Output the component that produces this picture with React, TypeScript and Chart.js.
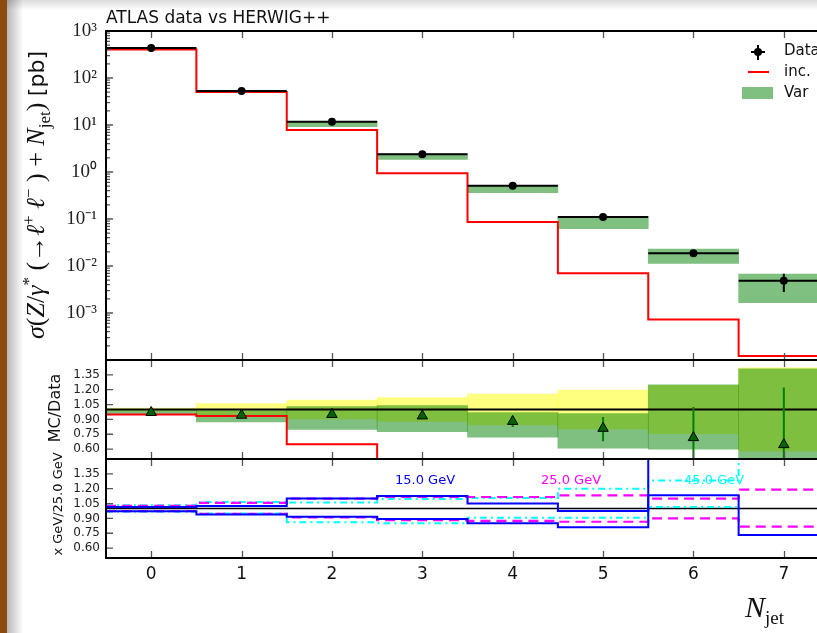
import React, { useEffect, useRef } from 'react';
import { Chart, registerables } from 'chart.js';

Chart.register(...registerables);

// ---------------- data ----------------
const binCenters = [0, 1, 2, 3, 4, 5, 6, 7];
const xTickLabels = ['0', '1', '2', '3', '4', '5', '6', '7'];

// main panel (pb)
const dataValues = [435, 53, 11.7, 2.38, 0.51, 0.11, 0.0186, 0.00488];
const dataErrLow = [425, 51.5, 11.2, 2.3, 0.49, 0.104, 0.0166, 0.0028];
const dataErrHigh = [445, 54.5, 12.2, 2.46, 0.53, 0.116, 0.0207, 0.0068];
const incValues = [404, 50.3, 7.8, 0.94, 0.086, 0.007, 0.00073, 0.000122];
const varLow = [405, 50, 9.2, 1.86, 0.363, 0.062, 0.0114, 0.00166];
const varHigh = [440, 54, 11.8, 2.45, 0.52, 0.112, 0.023, 0.00676];

const logTickValues = [1e-3, 1e-2, 1e-1, 1, 10, 100, 1000];
const logTickLabels = ['10⁻³', '10⁻²', '10⁻¹', '10⁰', '10¹', '10²', '10³'];

// ratio panel (MC/Data)
const ratioTickValues = [0.6, 0.75, 0.9, 1.05, 1.2, 1.35];
const ratioTickLabels = ['0.60', '0.75', '0.90', '1.05', '1.20', '1.35'];
const dataUncHalf = [0.015, 0.06, 0.095, 0.12, 0.155, 0.195, 0.245, 0.42];
const varRatioLow = [0.95, 0.875, 0.8, 0.775, 0.72, 0.61, 0.6, 0.45];
const varRatioHigh = [1.0, 0.99, 1.03, 1.04, 0.97, 0.96, 1.25, 1.41];
const mcRatio = [0.97, 0.942, 0.95, 0.935, 0.88, 0.81, 0.716, 0.645];
const mcRatioLow = [0.962, 0.934, 0.942, 0.925, 0.824, 0.68, 0.43, 0.07];
const mcRatioHigh = [0.978, 0.95, 0.958, 0.945, 0.935, 0.925, 1.026, 1.223];
const incRatio = [0.95, 0.935, 0.65, 0.4, 0.17, 0.066, 0.039, 0.025];

// scale-variation panel (x GeV / 25.0 GeV)
const scale15Up = [1.016, 1.026, 1.1, 1.126, 1.05, 0.976, 1.133, 0.733];
const scale15Down = [0.973, 0.94, 0.916, 0.893, 0.85, 0.81, 1.9, 1.9];
const scale25Up = [1.026, 1.056, 1.1, 1.116, 1.116, 1.133, 1.1, 1.19];
const scale25Down = [0.973, 0.945, 0.91, 0.883, 0.876, 0.866, 0.9, 0.816];
const scale45Up = [1.033, 1.066, 1.06, 1.095, 1.106, 1.2, 1.283, 1.9];
const scale45Down = [0.967, 0.95, 0.86, 0.85, 0.906, 0.906, 1.016, null];
const unityLine = [1, 1, 1, 1, 1, 1, 1, 1];

// ---------------- helpers ----------------
type V = number | null;
const stepPts = (vals: V[]) => {
  const pts: { x: number; y: V }[] = [];
  binCenters.forEach((c, i) => {
    pts.push({ x: c - 0.5, y: vals[i] });
    pts.push({ x: c + 0.5, y: vals[i] });
  });
  return pts;
};
const hSegPts = (vals: V[]) => {
  const pts: { x: number; y: V }[] = [];
  binCenters.forEach((c, i) => {
    pts.push({ x: c - 0.5, y: vals[i] });
    pts.push({ x: c + 0.5, y: vals[i] });
    pts.push({ x: c + 0.5, y: null });
  });
  return pts;
};
const vSegPts = (lo: number[], hi: number[]) => {
  const pts: { x: number; y: V }[] = [];
  binCenters.forEach((c, i) => {
    pts.push({ x: c, y: lo[i] });
    pts.push({ x: c, y: hi[i] });
    pts.push({ x: c, y: null });
  });
  return pts;
};
const bandPts = (lo: number[], hi: number[]) =>
  binCenters.map((c, i) => ({ x: c, y: [lo[i], hi[i]] }));
const centerPts = (vals: number[]) => binCenters.map((c, i) => ({ x: c, y: vals[i] }));

const lineDS = (data: any, color: string, width: number, dash: number[] = []) => ({
  type: 'line',
  data,
  borderColor: color,
  borderWidth: width,
  borderDash: dash,
  pointRadius: 0,
  fill: false,
  tension: 0,
  spanGaps: false,
});
const barDS = (data: any, color: string) => ({
  type: 'bar',
  data,
  backgroundColor: color,
  borderWidth: 0,
  barPercentage: 1,
  categoryPercentage: 1,
  grouped: false,
});

const CANVAS_W = 840;
const PLOT_RIGHT_PAD = 11; // chart area right edge at 829 (clipped by the 817 window)

const noPad = (s: any) => {
  s.paddingTop = 0;
  s.paddingBottom = 0;
  s.paddingLeft = 0;
  s.paddingRight = 0;
};

const xScale = (showLabels: boolean) => ({
  type: 'linear',
  min: -0.5,
  max: 7.5,
  offset: false,
  display: showLabels,
  afterBuildTicks: (s: any) => {
    s.ticks = binCenters.map((v) => ({ value: v }));
  },
  afterFit: (s: any) => {
    noPad(s);
    if (showLabels) s.height = 75;
  },
  grid: { display: false, drawTicks: false },
  border: { display: false },
  ticks: {
    autoSkip: false,
    maxRotation: 0,
    padding: 6,
    color: '#111',
    font: { family: 'DejaVu Sans', size: 17 },
    callback: (_v: any, i: number) => xTickLabels[i],
  },
});

const ratioY = () => ({
  type: 'linear',
  min: 0.5,
  max: 1.5,
  afterFit: (s: any) => {
    noPad(s);
    s.width = 106;
  },
  afterBuildTicks: (s: any) => {
    s.ticks = ratioTickValues.map((v) => ({ value: v }));
  },
  grid: { display: false, drawTicks: false },
  border: { display: false },
  ticks: {
    autoSkip: false,
    padding: 6,
    color: '#222',
    font: { family: 'DejaVu Sans', size: 12 },
    callback: (_v: any, i: number) => ratioTickLabels[i],
  },
});

const framePlugin = (yTicks: number[], logMinor: boolean, legend: boolean) => ({
  id: 'frame',
  afterDraw(chart: any) {
    const { ctx, chartArea: a, scales } = chart;
    const xs = scales.x;
    const ys = scales.y;
    ctx.save();
    ctx.strokeStyle = '#555';
    ctx.lineWidth = 1.3;
    ctx.beginPath();
    for (const c of binCenters) {
      const px = Math.round(xs.getPixelForValue(c)) + 0.5;
      ctx.moveTo(px, a.top);
      ctx.lineTo(px, a.top + 7);
      ctx.moveTo(px, a.bottom);
      ctx.lineTo(px, a.bottom - 7);
    }
    for (const v of yTicks) {
      const py = ys.getPixelForValue(v);
      ctx.moveTo(a.left, py);
      ctx.lineTo(a.left + 7, py);
    }
    if (logMinor) {
      for (let e = -4; e < 3; e++) {
        for (let m = 2; m < 10; m++) {
          const py = ys.getPixelForValue(m * Math.pow(10, e));
          ctx.moveTo(a.left, py);
          ctx.lineTo(a.left + 4, py);
        }
      }
    }
    ctx.stroke();
    ctx.strokeStyle = '#000';
    ctx.lineWidth = 2;
    ctx.beginPath();
    ctx.moveTo(a.right + 5, a.top);
    ctx.lineTo(a.left, a.top);
    ctx.lineTo(a.left, a.bottom);
    ctx.lineTo(a.right + 5, a.bottom);
    ctx.stroke();
    if (legend) {
      ctx.strokeStyle = '#000';
      ctx.lineWidth = 2;
      ctx.beginPath();
      ctx.moveTo(758, 45);
      ctx.lineTo(758, 60);
      ctx.moveTo(751, 52);
      ctx.lineTo(765, 52);
      ctx.stroke();
      ctx.fillStyle = '#000';
      ctx.beginPath();
      ctx.arc(758, 52, 4, 0, Math.PI * 2);
      ctx.fill();
      ctx.strokeStyle = '#ff0000';
      ctx.lineWidth = 2;
      ctx.beginPath();
      ctx.moveTo(748, 72);
      ctx.lineTo(769, 72);
      ctx.stroke();
      ctx.fillStyle = 'rgba(0,128,0,0.5)';
      ctx.fillRect(742, 87, 31, 12);
    }
    ctx.restore();
  },
});

const baseOptions = (padTop: number, padBottom: number) => ({
  responsive: false,
  maintainAspectRatio: false,
  animation: false,
  devicePixelRatio: 1,
  events: [],
  layout: {
    autoPadding: false,
    padding: { left: 0, right: PLOT_RIGHT_PAD, top: padTop, bottom: padBottom },
  },
  plugins: { legend: { display: false }, tooltip: { enabled: false }, title: { display: false } },
});

export default function App() {
  const mainRef = useRef<HTMLCanvasElement>(null);
  const ratioRef = useRef<HTMLCanvasElement>(null);
  const scaleRef = useRef<HTMLCanvasElement>(null);

  useEffect(() => {
    const charts: Chart[] = [];

    charts.push(
      new Chart(mainRef.current as HTMLCanvasElement, {
        type: 'line',
        data: {
          datasets: [
            {
              type: 'line',
              data: centerPts(dataValues),
              showLine: false,
              pointRadius: 4,
              pointBackgroundColor: '#000',
              pointBorderWidth: 0,
            },
            lineDS(hSegPts(dataValues), '#000', 2),
            lineDS(vSegPts(dataErrLow, dataErrHigh), '#000', 2),
            lineDS(stepPts(incValues), '#ff0000', 2),
            barDS(bandPts(varLow, varHigh), 'rgba(0,128,0,0.5)'),
          ] as any,
        },
        options: {
          ...baseOptions(31, 2),
          scales: {
            x: xScale(false),
            y: {
              type: 'logarithmic',
              min: 1e-4,
              max: 1e3,
              afterFit: (s: any) => {
                noPad(s);
                s.width = 106;
              },
              afterBuildTicks: (s: any) => {
                s.ticks = logTickValues.map((v) => ({ value: v }));
              },
              grid: { display: false, drawTicks: false },
              border: { display: false },
              ticks: {
                autoSkip: false,
                padding: 9,
                color: '#222',
                font: { family: 'Liberation Serif', size: 19 },
                callback: (_v: any, i: number) => logTickLabels[i],
              },
            },
          },
        } as any,
        plugins: [framePlugin(logTickValues, true, true)],
      } as any)
    );

    charts.push(
      new Chart(ratioRef.current as HTMLCanvasElement, {
        type: 'line',
        data: {
          datasets: [
            {
              type: 'line',
              data: centerPts(mcRatio),
              showLine: false,
              pointStyle: 'triangle',
              pointRadius: 6,
              pointBackgroundColor: '#006400',
              pointBorderColor: '#000',
              pointBorderWidth: 1,
            },
            lineDS(vSegPts(mcRatioLow, mcRatioHigh), '#008000', 2),
            lineDS(stepPts(unityLine), '#000', 2),
            lineDS(stepPts(incRatio), '#ff0000', 2),
            barDS(bandPts(varRatioLow, varRatioHigh), 'rgba(0,128,0,0.5)'),
            barDS(
              bandPts(
                dataUncHalf.map((h) => 1 - h),
                dataUncHalf.map((h) => 1 + h)
              ),
              'rgba(255,255,0,0.5)'
            ),
          ] as any,
        },
        options: {
          ...baseOptions(2, 2),
          scales: { x: xScale(false), y: ratioY() },
        } as any,
        plugins: [framePlugin(ratioTickValues, false, false)],
      } as any)
    );

    charts.push(
      new Chart(scaleRef.current as HTMLCanvasElement, {
        type: 'line',
        data: {
          datasets: [
            lineDS(stepPts(scale15Up), '#0000ff', 2),
            lineDS(stepPts(scale15Down), '#0000ff', 2),
            lineDS(stepPts(scale25Up), '#ff00ff', 2.2, [10, 6]),
            lineDS(stepPts(scale25Down), '#ff00ff', 2.2, [10, 6]),
            lineDS(stepPts(scale45Up), '#00ffff', 2, [7, 4, 2, 4]),
            lineDS(stepPts(scale45Down), '#00ffff', 2, [7, 4, 2, 4]),
            lineDS(stepPts(unityLine), '#000', 1.5),
          ] as any,
        },
        options: {
          ...baseOptions(2, 0),
          scales: { x: xScale(true), y: ratioY() },
        } as any,
        plugins: [framePlugin(ratioTickValues, false, false)],
      } as any)
    );

    return () => charts.forEach((c) => c.destroy());
  }, []);

  const sans = '"DejaVu Sans", sans-serif';
  const serif = '"Liberation Serif", "DejaVu Serif", serif';
  const abs = (o: any) => ({ position: 'absolute' as const, whiteSpace: 'nowrap' as const, ...o });

  return (
    <div
      style={{
        position: 'fixed',
        left: 0,
        top: 0,
        width: 817,
        height: 633,
        overflow: 'hidden',
        background: '#fff',
      }}
    >
      <canvas ref={mainRef} width={CANVAS_W} height={362} style={{ position: 'absolute', left: 0, top: 0 }} />
      <canvas ref={ratioRef} width={CANVAS_W} height={103} style={{ position: 'absolute', left: 0, top: 358 }} />
      <canvas ref={scaleRef} width={CANVAS_W} height={176} style={{ position: 'absolute', left: 0, top: 457 }} />

      {/* page decoration: left border and shadows */}
      <div style={abs({ left: 0, top: 0, width: 7, height: 633, background: '#8d4b10' })} />
      <div
        style={abs({
          left: 7,
          top: 0,
          width: 16,
          height: 633,
          background: 'linear-gradient(to right, rgba(0,0,0,0.28), rgba(0,0,0,0))',
        })}
      />
      <div
        style={abs({
          left: 7,
          top: 0,
          width: 810,
          height: 10,
          background: 'linear-gradient(to bottom, rgba(0,0,0,0.14), rgba(0,0,0,0))',
        })}
      />

      {/* title */}
      <div style={abs({ left: 106, top: 9, fontFamily: sans, fontSize: 17, lineHeight: '17px', color: '#111' })}>
        ATLAS data vs HERWIG++
      </div>

      {/* legend labels */}
      <div style={abs({ left: 784, top: 43, fontFamily: sans, fontSize: 15, lineHeight: '15px', color: '#111' })}>Data</div>
      <div style={abs({ left: 784, top: 64, fontFamily: sans, fontSize: 15, lineHeight: '15px', color: '#111' })}>inc.</div>
      <div style={abs({ left: 784, top: 85, fontFamily: sans, fontSize: 15, lineHeight: '15px', color: '#111' })}>Var</div>

      {/* y axis titles */}
      <div
        style={abs({
          left: 37,
          top: 195,
          transform: 'translate(-50%, -50%) rotate(-90deg)',
          fontFamily: serif,
          fontSize: 26,
          lineHeight: '26px',
          color: '#111',
        })}
      >
        <i>σ</i>(<i>Z</i>/<i>γ</i>
        <sup style={{ fontSize: 17 }}>*</sup>&nbsp;(→<i>ℓ</i>
        <sup style={{ fontSize: 17 }}>+</sup>&nbsp;<i>ℓ</i>
        <sup style={{ fontSize: 17 }}>−</sup>&nbsp;)&nbsp;+&nbsp;<i>N</i>
        <sub style={{ fontSize: 17 }}>jet</sub>)&nbsp;<span style={{ fontFamily: sans, fontSize: 22 }}>[pb]</span>
      </div>
      <div
        style={abs({
          left: 55,
          top: 408,
          transform: 'translate(-50%, -50%) rotate(-90deg)',
          fontFamily: sans,
          fontSize: 16,
          lineHeight: '16px',
          color: '#111',
        })}
      >
        MC/Data
      </div>
      <div
        style={abs({
          left: 57,
          top: 504,
          transform: 'translate(-50%, -50%) rotate(-90deg)',
          fontFamily: sans,
          fontSize: 13,
          lineHeight: '13px',
          color: '#111',
        })}
      >
        x GeV/25.0 GeV
      </div>

      {/* scale variation labels */}
      <div style={abs({ left: 395, top: 473, fontFamily: sans, fontSize: 13, lineHeight: '13px', color: '#0000ff' })}>
        15.0 GeV
      </div>
      <div style={abs({ left: 541, top: 473, fontFamily: sans, fontSize: 13, lineHeight: '13px', color: '#ff00ff' })}>
        25.0 GeV
      </div>
      <div style={abs({ left: 684, top: 473, fontFamily: sans, fontSize: 13, lineHeight: '13px', color: '#00ffff' })}>
        45.0 GeV
      </div>

      {/* x axis title */}
      <div style={abs({ left: 745, top: 592, fontFamily: serif, fontSize: 30, lineHeight: '30px', color: '#111' })}>
        <i>N</i>
        <sub style={{ fontSize: 19, fontStyle: 'normal' }}>jet</sub>
      </div>
    </div>
  );
}
